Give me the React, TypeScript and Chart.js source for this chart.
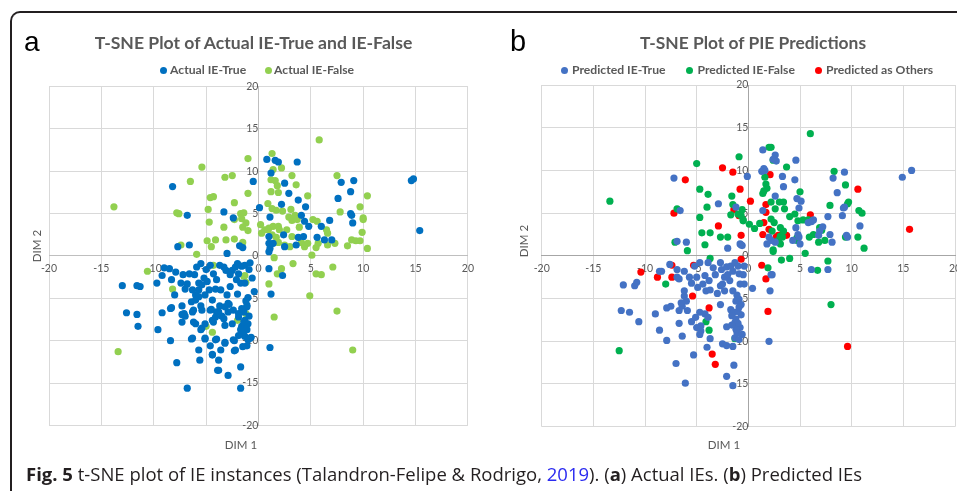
import React, { useEffect, useRef } from 'react';
import { Chart, registerables } from 'chart.js';
Chart.register(...registerables);

type Pt = [number, number];

const axisMin = -20;
const axisMax = 20;
const axisStep = 5;

// Panel a: Actual IE-True
const actualTrue: Pt[] = [
  [-8.2,8.2],[-6.8,4.8],[-3.3,5.2],[-2.4,4.5],[-0.5,8.8],[0.1,5.7],[0.8,11.4],[1.2,9.8],[-7.7,1.1],[-6.6,1.3],
  [-3.0,0.3],[-1.8,1.2],[-1.5,1.0],[1.0,1.5],[1.0,0.5],[1.6,11.3],[1.9,11.1],[3.7,11.1],[2.5,8.6],[7.9,8.7],
  [9.1,8.9],[14.6,8.9],[14.8,9.1],[2.9,7.4],[8.8,7.6],[7.6,6.8],[3.8,6.6],[4.5,5.8],[2.2,6.1],[8.8,5.0],
  [8.9,4.8],[9.0,3.9],[6.8,4.2],[15.4,3.0],[4.1,4.8],[4.4,4.1],[4.8,3.5],[6.0,3.5],[1.1,4.6],[5.6,2.2],
  [7.0,1.9],[6.3,1.9],[3.8,2.2],[4.3,2.3],[2.4,2.5],[2.5,1.1],[1.0,2.3],[1.1,0.9],[1.4,1.5],[3.6,1.3],
  [-8.5,-1.5],[-9.2,-2.3],[2.3,-2.3],[1.0,-1.5],[-13.0,-3.5],[-11.6,-3.5],[-11.3,-3.6],[-9.7,-3.2],[-12.6,-6.7],[-11.6,-6.9],
  [-11.5,-8.3],[-9.6,-8.7],[-9.2,-6.7],[-8.4,-6.2],[-8.3,-6.1],[-8.4,-10.0],[-7.8,-12.6],[-6.8,-15.6],[-6.4,-9.8],[-5.6,-12.3],
  [-5.1,-9.8],[-4.6,-10.6],[-4.4,-11.6],[-4.0,-9.8],[-3.6,-11.1],[-3.8,-12.3],[-3.9,-13.5],[-3.2,-10.2],[-2.9,-14.1],[-2.3,-10.0],
  [-2.3,-11.2],[-1.7,-13.1],[-1.7,-15.6],[-1.5,-10.7],[-1.1,-10.6],[-0.7,-9.6],[-0.4,-4.2],[1.2,-4.5],[1.1,-10.8],
  [-7.3,-5.9],[-7.3,-6.9],[-7.0,-7.1],[-6.2,-6.4],[-6.4,-5.4],[-6.0,-4.6],[-5.7,-4.0],[-5.5,-5.9],[-6.0,-8.0],[-5.4,-8.5],
  [-5.1,-8.0],[-4.5,-6.3],[-4.4,-7.6],[-4.0,-6.6],[-3.7,-5.9],[-3.5,-7.1],[-3.2,-8.2],[-2.8,-5.7],[-2.9,-6.6],[-2.5,-8.0],
  [-1.9,-7.2],[-1.6,-8.3],[-1.3,-7.6],[-1.1,-6.0],[-1.4,-6.6],[-1.4,-8.9],[-1.2,-8.5],[-1.3,-9.5],[-0.8,-9.7],
  [-7.9,-1.9],[-8.3,-2.8],[-7.4,-3.2],[-7.2,-2.2],[-6.6,-2.1],[-7.0,-3.9],[-5.9,-1.3],[-6.1,-2.2],[-5.7,-3.2],[-5.0,-1.6],
  [-4.6,-1.1],[-5.2,-2.6],[-4.9,-3.0],[-4.3,-2.1],[-4.0,-2.8],[-3.7,-1.1],[-3.3,-1.3],[-3.1,-1.7],[-2.7,-2.2],[-2.5,-1.7],
  [-2.2,-1.3],[-1.9,-2.1],[-1.6,-1.2],[-1.3,-1.1],[-2.1,-2.8],[-1.7,-3.2],[-1.3,-3.2],[-4.1,-3.9],[-3.6,-4.0],[-2.7,-3.6],
  [-4.7,-4.0],[-6.3,-4.0],[-5.7,-4.8],[-5.1,-4.6],[-5.4,-3.4],[-6.0,-5.2],[-7.1,-6.8],[-7.3,-7.8],[-6.3,-6.6],[-6.2,-7.8],
  [-5.4,-6.4],[-4.6,-6.4],[-4.1,-7.2],[-3.8,-6.6],[-3.2,-6.0],[-2.9,-5.6],[-2.4,-6.4],[-1.9,-6.8],[-1.6,-6.2],[-1.1,-5.8],
  [-1.4,-7.8],[-1.1,-8.7],[-1.7,-8.7],[-3.3,-7.4],[-4.3,-7.8],[-5.5,-8.7],[-5.1,-9.7],[-4.1,-9.9],[-3.2,-10.3],[-2.4,-9.9],
  [-2.2,-11.1],[-5.7,-11.1],[-6.3,-9.7],[-3.8,-13.5],[-4.4,-11.7],[-0.9,-1.6],[-0.6,-2.6],[-9.0,-1.4],
  [-1.0,-4.9],[-1.2,-5.3],[-0.9,-7.1],[-1.0,-8.0],[-1.5,-9.2],[-1.0,-9.9],[-2.0,-4.5],[-3.0,-4.6],[-4.4,-5.2],[-6.8,-3.3],
  [-8.0,-4.6],[-2.0,-0.9],[-0.8,-0.8],[-5.5,-0.9],[-1.9,-9.4]
];

// Panel a: Actual IE-False
const actualFalse: Pt[] = [
  [-13.8,5.8],[-5.4,10.5],[-6.5,8.8],[-3.2,9.3],[-2.5,9.5],[-1.0,11.5],[-4.6,6.9],[-4.3,7.0],[-2.3,6.3],[-1.0,7.4],
  [-4.8,5.5],[-7.8,5.1],[-7.6,5.0],[-4.7,4.0],[-3.3,3.4],[-2.3,4.3],[-1.7,5.0],[-1.4,5.1],[-1.6,4.4],[-1.2,3.9],
  [-1.5,3.4],[-1.0,3.0],[-1.5,1.6],[-4.9,1.8],[-4.1,1.9],[-4.5,1.1],[-3.1,1.9],[-2.3,2.0],[-7.4,1.3],[-5.9,0.2],
  [1.3,12.1],[5.8,13.7],[2.2,10.4],[3.2,9.5],[1.4,10.2],[1.2,9.0],[1.6,8.9],[1.8,8.3],[1.2,7.6],[1.9,7.5],
  [3.6,8.4],[7.5,9.5],[4.7,7.1],[0.9,6.2],[1.3,5.6],[1.7,5.4],[2.3,5.3],[3.1,5.5],[10.4,7.1],[9.7,5.8],
  [7.8,5.2],[10.0,4.5],[10.0,4.3],[2.9,4.6],[3.2,4.2],[3.7,4.3],[3.5,4.8],[5.2,4.3],[5.6,4.1],[3.9,3.4],
  [6.5,3.1],[6.6,2.7],[9.9,2.8],[8.9,1.9],[9.3,1.8],[9.7,1.8],[8.5,1.2],[10.4,0.9],[7.3,1.5],[6.6,1.3],
  [5.7,1.5],[5.5,1.0],[5.1,0.1],[1.5,-0.2],[0.6,3.1],[1.0,3.3],[1.4,3.5],[1.9,3.5],[2.0,3.1],[2.7,3.1],
  [1.3,2.5],[1.7,2.2],[3.2,2.3],[2.5,1.3],[1.9,1.6],[3.0,1.1],[4.1,1.6],[4.7,1.5],[4.4,1.1],[0.2,3.7],
  [0.3,2.7],[0.9,3.1],[-10.6,-1.8],[-4.3,-1.1],[-1.3,-2.3],[2.2,-1.5],[1.8,-2.1],[3.3,-0.9],[5.5,-2.1],[6.0,-2.2],
  [7.1,-1.3],[-8.2,-3.9],[-1.4,-2.4],[-1.2,-3.1],[1.0,-3.3],[4.9,-4.7],[7.5,-6.5],[1.5,-7.2],[-1.2,-6.8],[-2.0,-7.6],
  [-5.0,-8.3],[-4.4,-9.0],[-13.4,-11.3],[9.0,-11.1]
];

// Panel b: Predicted IE-True
const predTrue: Pt[] = [
  [-7.2,9.1],[-6.6,5.3],[-2.9,6.1],[-1.2,5.7],[-0.1,9.3],[1.4,12.4],[1.5,10.2],[-6.9,1.7],[-6.0,1.6],[-2.0,0.9],
  [-0.8,1.4],[-0.6,1.2],[1.4,5.3],[2.6,11.8],[2.7,11.1],[2.4,11.3],[4.6,11.2],[1.6,10.0],[1.3,9.9],[3.3,9.3],
  [4.5,8.9],[3.4,8.1],[2.6,7.0],[4.7,6.7],[5.1,6.4],[4.9,5.6],[8.2,9.1],[9.3,9.8],[8.6,7.4],[9.3,5.7],
  [9.2,5.6],[7.7,4.6],[9.1,4.7],[10.8,3.5],[9.5,2.4],[9.6,2.2],[7.9,2.5],[8.1,1.6],[14.9,9.2],[15.8,10.0],
  [6.1,4.0],[6.3,4.2],[5.8,3.9],[7.2,3.4],[6.9,2.9],[6.8,2.4],[4.6,3.3],[4.8,2.5],[4.9,2.2],[5.0,1.4],
  [4.3,1.8],[1.8,1.4],[2.0,2.2],[2.6,1.6],[2.2,1.8],[-0.7,1.3],[7.7,-1.6],[6.1,-1.6],[2.3,-2.2],
  [-12.1,-3.4],[-11.0,-3.5],[-10.8,-3.1],[-12.3,-6.4],[-11.5,-6.6],[-10.6,-7.7],[-8.6,-8.7],[-9.0,-6.8],[-7.9,-9.9],[-7.0,-12.6],
  [-6.1,-14.9],[-6.4,-9.4],[-6.7,-7.9],[-5.3,-11.6],[-7.9,-6.1],[-7.5,-5.9],[-6.7,-6.4],[-6.4,-5.9],[-5.9,-6.4],[-6.2,-4.7],
  [-6.0,-5.3],[-6.5,-5.5],[-5.5,-7.7],[-5.1,-7.2],[-4.7,-6.6],[-5.0,-8.4],[-4.6,-8.8],[-4.6,-8.2],[-4.2,-6.8],[-3.9,-7.2],
  [-4.7,-9.2],[-3.7,-9.7],[-4.0,-10.7],[-2.1,-8.3],[-2.5,-10.3],[-2.1,-10.5],[-1.5,-10.6],[-1.4,-12.8],[-2.1,-14.1],[-1.5,-15.2],
  [2.0,-10.0],[0.4,-3.8],[2.1,-4.1],[2.2,-2.2],[-2.7,-5.7],[-2.3,-4.1],[-2.7,-3.5],[-1.8,-2.9],[-1.5,-4.1],[-0.9,-5.1],
  [-1.2,-5.3],[-1.7,-6.3],[-1.4,-6.6],[-1.0,-6.5],[-1.6,-7.0],[-1.2,-7.4],[-1.3,-7.8],[-0.8,-8.4],[-1.1,-9.0],[-1.3,-9.6],
  [-0.6,-9.2],[-0.7,-5.7],[-2.3,-2.5],[-2.0,-2.2],[-2.5,-3.3],[-8.4,-1.8],[-7.6,-1.0],[-6.9,-1.6],[-6.9,-2.5],[-6.2,-1.8],
  [-5.7,-2.5],[-5.2,-1.2],[-4.7,-0.8],[-4.2,-2.3],[-3.9,-0.8],[-3.4,-1.4],[-3.8,-2.9],[-3.2,-2.2],[-2.7,-0.8],[-2.6,-1.6],
  [-2.1,-1.3],[-1.7,-1.2],[-1.3,-0.8],[-1.0,-1.2],[-1.5,-1.8],[-0.9,-2.1],[-0.5,-2.2],[-0.4,-3.3],[-0.8,-3.3],[-4.9,-3.7],
  [-4.4,-3.3],[-4.1,-4.1],[-3.7,-4.0],[-6.2,-4.1],[-6.7,-2.7],[-5.0,-2.5],[-8.6,-1.8],[-1.0,-7.9],[-0.7,-6.9],[-1.1,-4.6],
  [-0.9,-6.0],[-1.2,-8.6],[-0.9,-9.8],[-1.6,-8.1],[-3.0,-4.4],[-5.5,-3.2],[-0.4,-1.2]
];

// Panel b: Predicted IE-False
const predFalse: Pt[] = [
  [-13.4,6.4],[-5.0,10.8],[-0.9,11.6],[-4.7,7.8],[-3.9,7.2],[-4.0,5.7],[-1.6,7.0],[-1.5,6.0],[-0.6,5.4],[-1.0,4.9],
  [-1.7,4.8],[-0.5,4.2],[-4.7,4.5],[-6.9,5.5],[-4.5,2.7],[-3.7,2.7],[-2.7,2.2],[-2.0,2.2],[-4.2,1.3],[-7.1,1.6],
  [-5.9,0.6],[0.1,3.7],[0.6,3.2],[1.1,3.8],[2.0,12.7],[1.6,9.2],[1.7,8.4],[1.5,7.6],[1.4,7.3],[1.8,7.9],
  [6.0,14.3],[2.2,12.7],[2.4,11.2],[3.7,10.4],[5.0,7.5],[8.3,9.9],[9.4,8.3],[9.7,6.3],[9.6,6.1],[7.9,5.9],
  [10.7,5.3],[11.0,5.0],[2.2,6.3],[3.0,6.3],[3.4,6.3],[2.6,5.5],[3.5,5.5],[4.0,4.6],[4.5,4.9],[5.3,4.2],
  [5.8,4.2],[4.8,4.1],[2.2,4.3],[2.5,3.9],[3.1,3.3],[2.3,2.9],[3.4,2.9],[3.1,2.3],[2.9,1.8],[3.1,1.4],
  [2.4,0.7],[3.3,2.2],[4.7,2.1],[4.7,1.8],[5.9,2.2],[6.3,2.5],[6.9,3.3],[7.1,3.0],[6.8,1.6],[7.4,1.8],
  [9.4,2.2],[10.6,2.2],[11.2,0.9],[5.5,0.3],[4.0,-0.3],[3.2,-0.5],[7.7,-0.6],[-0.5,4.1],[-0.7,4.7],[-3.7,-0.3],
  [-8.0,-3.3],[1.9,-1.4],[2.4,0.5],[6.7,-1.7],[-4.1,-7.7],[-3.8,-8.7],[-1.3,-9.7],[-12.5,-11.1],[8.0,-5.7]
];

// Panel b: Predicted as Others
const predOther: Pt[] = [
  [-6.1,8.9],[-2.5,10.3],[-1.5,9.8],[-0.8,7.8],[0.2,6.4],[-1.4,5.4],[-0.9,4.7],[-7.2,5.0],[-2.9,3.5],[-0.7,2.4],
  [1.7,6.0],[1.7,5.1],[1.5,3.9],[1.4,2.5],[-0.7,-0.4],[2.1,9.5],[2.0,3.1],[2.9,2.4],[3.2,2.5],[3.7,2.4],
  [2.7,2.2],[6.0,4.8],[10.6,7.8],[15.6,3.1],[-10.4,-1.9],[-8.8,-2.5],[-7.4,-1.1],[-7.4,-2.5],[-5.3,-1.1],[1.3,-1.1],
  [1.7,-2.7],[-5.4,-4.7],[-3.8,-6.1],[1.9,-6.5],[-3.5,-11.5],[-3.2,-12.7],[9.6,-10.6]
];

const GRAY = '#595959';
const FONT = 'Lato, "Open Sans", sans-serif';

type Series = { label: string; data: Pt[]; color: string };

function ScatterPanel(props: {
  left: number; width: number; pad: { left: number; right: number; top: number; bottom: number };
  series: Series[]; axisColor: string;
}) {
  const ref = useRef<HTMLCanvasElement | null>(null);
  useEffect(() => {
    const canvas = ref.current;
    if (!canvas) return;
    const tickFont = { family: FONT, size: 10.5 };
    const chart = new Chart(canvas, {
      type: 'scatter',
      data: {
        datasets: props.series.map((s) => ({
          label: s.label,
          data: s.data.map(([x, y]) => ({ x, y })),
          backgroundColor: s.color,
          borderWidth: 0,
          pointRadius: 3.6,
          pointHoverRadius: 3.6,
        })),
      },
      options: {
        animation: false,
        responsive: false,
        maintainAspectRatio: false,
        devicePixelRatio: 1,
        layout: { padding: props.pad },
        plugins: { legend: { display: false }, title: { display: false }, tooltip: { enabled: false } },
        scales: {
          x: {
            type: 'linear',
            position: { y: 0 } as any,
            min: axisMin,
            max: axisMax,
            ticks: { stepSize: axisStep, color: GRAY, font: tickFont, padding: 6, maxRotation: 0, autoSkip: false },
            grid: { color: '#d9d9d9', drawTicks: false, lineWidth: 1 },
            border: { color: props.axisColor, width: 1 },
          },
          y: {
            type: 'linear',
            position: { x: 0 } as any,
            min: axisMin,
            max: axisMax,
            ticks: { stepSize: axisStep, color: GRAY, font: tickFont, padding: 8, autoSkip: false },
            grid: { color: '#d9d9d9', drawTicks: false, lineWidth: 1 },
            border: { color: props.axisColor, width: 1 },
          },
        },
      } as any,
    });
    return () => chart.destroy();
  }, []);
  return (
    <canvas
      ref={ref}
      width={props.width}
      height={491}
      style={{ position: 'absolute', left: props.left, top: 0, width: props.width, height: 491 }}
    />
  );
}

function Txt(props: { x: number; base: number; size: number; bold?: boolean; family?: string; color?: string; align?: 'left' | 'center'; children: React.ReactNode; asc?: number; desc?: number }) {
  const asc = props.asc ?? 0.987;
  const desc = props.desc ?? 0.213;
  const lh = props.size * 1.4;
  const top = props.base - asc * props.size - (lh - props.size * (asc + desc)) / 2;
  const style: React.CSSProperties = {
    position: 'absolute',
    top,
    fontSize: props.size,
    lineHeight: lh + 'px',
    fontFamily: props.family ?? FONT,
    fontWeight: props.bold ? 700 : 400,
    color: props.color ?? GRAY,
    whiteSpace: 'nowrap',
  };
  if (props.align === 'center') {
    style.left = props.x - 500;
    style.width = 1000;
    style.textAlign = 'center';
  } else {
    style.left = props.x;
  }
  return <div style={style}>{props.children}</div>;
}

function LegendItem(props: { x: number; textX: number; y: number; color: string; label: string }) {
  return (
    <>
      <div style={{ position: 'absolute', left: props.x - 3.5, top: props.y - 3.5, width: 7, height: 7, borderRadius: 4, background: props.color }} />
      <Txt x={props.textX} base={props.y + 4.3} size={12.2} bold>{props.label}</Txt>
    </>
  );
}

function VLabel(props: { cx: number; cy: number; text: string }) {
  return (
    <div style={{ position: 'absolute', left: props.cx - 50, top: props.cy - 8, width: 100, height: 16, lineHeight: '16px', textAlign: 'center', transform: 'rotate(-90deg)', fontFamily: FONT, fontSize: 11.5, color: GRAY }}>
      {props.text}
    </div>
  );
}

export default function App() {
  const cap = '"Open Sans", "Noto Sans", sans-serif';
  return (
    <div style={{ position: 'fixed', left: 0, top: 0, width: 957, height: 491, overflow: 'hidden', background: '#fff' }}>
      <div style={{ position: 'absolute', left: 10, top: 11, width: 1000, height: 600, borderTop: '2px solid #231f20', borderLeft: '2px solid #231f20', borderTopLeftRadius: 10 }} />
      <ScatterPanel
        left={0}
        width={480}
        pad={{ left: 49, right: 9.3, top: 86.6, bottom: 65.6 }}
        axisColor="#bfbfbf"
        series={[
          { label: 'Actual IE-True', data: actualTrue, color: '#0070C0' },
          { label: 'Actual IE-False', data: actualFalse, color: '#92D050' },
        ]}
      />
      <ScatterPanel
        left={480}
        width={490}
        pad={{ left: 61.7, right: 15, top: 85, bottom: 64.3 }}
        axisColor="#a6a6a6"
        series={[
          { label: 'Predicted IE-True', data: predTrue, color: '#4472C4' },
          { label: 'Predicted IE-False', data: predFalse, color: '#00B050' },
          { label: 'Predicted as Others', data: predOther, color: '#FF0000' },
        ]}
      />
      <Txt x={24} base={51} size={28} family='"Liberation Sans", Arial, sans-serif' color="#000" asc={0.905} desc={0.212}>a</Txt>
      <Txt x={510} base={51} size={29} family='"Liberation Sans", Arial, sans-serif' color="#000" asc={0.905} desc={0.212}>b</Txt>
      <Txt x={253.5} base={50} size={17.6} bold align="center">T-SNE Plot of Actual IE-True and IE-False</Txt>
      <Txt x={753} base={50} size={17.4} bold align="center">T-SNE Plot of PIE Predictions</Txt>
      <LegendItem x={163} textX={170} y={70} color="#0070C0" label="Actual IE-True" />
      <LegendItem x={268} textX={274} y={70} color="#92D050" label="Actual IE-False" />
      <LegendItem x={564} textX={572} y={70} color="#4472C4" label="Predicted IE-True" />
      <LegendItem x={689.5} textX={697.5} y={70} color="#00B050" label="Predicted IE-False" />
      <LegendItem x={818.5} textX={826} y={70} color="#FF0000" label="Predicted as Others" />
      <VLabel cx={37} cy={246} text="DIM 2" />
      <VLabel cx={524} cy={241} text="DIM 2" />
      <Txt x={241} base={449.5} size={11.5} align="center">DIM 1</Txt>
      <Txt x={724} base={449.5} size={11.5} align="center">DIM 1</Txt>
      <Txt x={26} base={481} size={18.5} family={cap} color="#231f20" asc={1.069} desc={0.293}>
        <b>Fig. 5</b> t-SNE plot of IE instances (Talandron-Felipe &amp; Rodrigo, <span style={{ color: '#2b2bf0' }}>2019</span>). (<b>a</b>) Actual IEs. (<b>b</b>) Predicted IEs
      </Txt>
    </div>
  );
}
